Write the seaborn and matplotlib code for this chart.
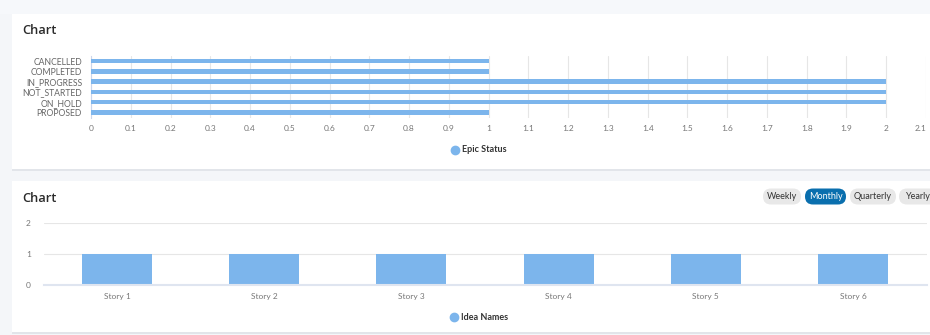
import matplotlib
matplotlib.use("Agg")
import matplotlib.pyplot as plt
import seaborn as sns
import pandas as pd
from matplotlib.patches import FancyBboxPatch, Rectangle

# ---- data ----
status_categories = ["CANCELLED", "COMPLETED", "IN_PROGRESS", "NOT_STARTED", "ON_HOLD", "PROPOSED"]
status_counts = [1, 1, 2, 2, 2, 1]
status_ticks = [0, 0.1, 0.2, 0.3, 0.4, 0.5, 0.6, 0.7, 0.8, 0.9, 1, 1.1, 1.2, 1.3, 1.4, 1.5,
                1.6, 1.7, 1.8, 1.9, 2, 2.1]
status_tick_labels = ["0", "0.1", "0.2", "0.3", "0.4", "0.5", "0.6", "0.7", "0.8", "0.9", "1",
                      "1.1", "1.2", "1.3", "1.4", "1.5", "1.6", "1.7", "1.8", "1.9", "2", "2.1"]
idea_names = ["Story 1", "Story 2", "Story 3", "Story 4", "Story 5", "Story 6"]
idea_counts = [1, 1, 1, 1, 1, 1]
idea_ticks = [0, 1, 2]
period_buttons = ["Weekly", "Monthly", "Quarterly", "Yearly"]
active_button = "Monthly"
legend_top = "Epic Status"
legend_bottom = "Idea Names"
titles = ["Chart", "Chart"]

BAR = "#7cb5ec"
W, H = 930, 335

sns.set_theme(style="white")
plt.rcParams["font.family"] = ["Lato", "DejaVu Sans"]

fig = plt.figure(figsize=(W / 100, H / 100), dpi=100)
fig.patch.set_facecolor("#f4f6f9")

def px_rect(x0, y0, x1, y1):
    return [x0 / W, 1 - y1 / H, (x1 - x0) / W, (y1 - y0) / H]

# background / decoration axes in pixel coordinates
bg = fig.add_axes([0, 0, 1, 1])
bg.set_xlim(0, W)
bg.set_ylim(H, 0)
bg.axis("off")
bg.set_zorder(0)

bg.add_patch(Rectangle((0, 0), W, 14, facecolor="#f6f8fb", edgecolor="none"))
for (y0, y1) in [(14, 169), (181, 332)]:
    bg.add_patch(Rectangle((12, y0), W - 12, y1 - y0 + 1.5, facecolor="#e2e5ea", edgecolor="none"))
    bg.add_patch(Rectangle((12, y0), W - 12, y1 - y0, facecolor="white", edgecolor="none"))

for ty, t in zip([31, 198], titles):
    bg.text(22, ty, t, fontsize=9.3, color="#2b2b2b", va="center", ha="left",
            fontfamily=["Open Sans", "DejaVu Sans"], fontweight="semibold")

# legends
bg.plot([455], [150], marker="o", markersize=6, color=BAR, linestyle="none")
bg.text(462, 150, legend_top, fontsize=6.5, fontweight="bold", color="#333333",
        va="center", ha="left")
bg.plot([454], [317], marker="o", markersize=6, color=BAR, linestyle="none")
bg.text(461, 317, legend_bottom, fontsize=6.5, fontweight="bold", color="#333333",
        va="center", ha="left")

# period buttons
btn_x = [(763, 801), (805, 846), (850, 896), (899, 937)]
for label, (x0, x1) in zip(period_buttons, btn_x):
    active = label == active_button
    col = "#0a6fae" if active else "#e8e8e8"
    bg.add_patch(FancyBboxPatch((x0, 188.5), (x1 - x0), 16,
                                boxstyle="round,pad=0,rounding_size=8",
                                facecolor=col, edgecolor="none"))
    bg.text((x0 + x1) / 2, 196.5, label, fontsize=6.5,
            color="white" if active else "#333333", ha="center", va="center")

# ---- top chart: horizontal bars ----
df_status = pd.DataFrame({"status": status_categories, "count": status_counts})
ax1 = fig.add_axes(px_rect(91, 56, 926, 117.5))
ax1.set_zorder(2)
ax1.set_facecolor("none")
sns.barplot(data=df_status, y="status", x="count", orient="h", color=BAR, width=0.45,
            saturation=1, ax=ax1, zorder=3, edgecolor="none")
ax1.set_xlim(0, 2.1)
ax1.set_ylim(5.5, -0.5)
ax1.set_xticks(status_ticks)
ax1.set_xticklabels(status_tick_labels)
ax1.tick_params(axis="x", length=0, labelsize=6, colors="#777777", pad=5.5)
ax1.tick_params(axis="y", length=0, labelsize=6.2, colors="#666666", pad=6.5)
ax1.grid(axis="x", color="#e6e6e6", linewidth=0.8, zorder=0)
ax1.set_axisbelow(True)
ax1.set_xlabel("")
ax1.set_ylabel("")
for s in ["top", "right", "bottom"]:
    ax1.spines[s].set_visible(False)
ax1.spines["left"].set_color("#ccd6eb")
ax1.spines["left"].set_linewidth(0.8)
lbls = ax1.get_xticklabels()
lbls[-1].set_horizontalalignment("right")

# ---- bottom chart: vertical bars ----
df_idea = pd.DataFrame({"idea": idea_names, "count": idea_counts})
ax2 = fig.add_axes(px_rect(43.5, 223, 926.5, 285))
ax2.set_zorder(2)
ax2.set_facecolor("none")
sns.barplot(data=df_idea, x="idea", y="count", color=BAR, width=0.475, saturation=1,
            ax=ax2, zorder=3, edgecolor="none")
ax2.set_xlim(-0.5, 5.5)
ax2.set_ylim(0, 2)
ax2.set_yticks(idea_ticks)
ax2.tick_params(axis="x", length=0, labelsize=6, colors="#777777", pad=6)
ax2.tick_params(axis="y", length=0, labelsize=6, colors="#777777", pad=9)
ax2.grid(axis="y", color="#e6e6e6", linewidth=0.8, zorder=0)
ax2.set_axisbelow(True)
ax2.set_xlabel("")
ax2.set_ylabel("")
for s in ["top", "right", "left"]:
    ax2.spines[s].set_visible(False)
ax2.spines["bottom"].set_color("#dfe5f0")
ax2.spines["bottom"].set_linewidth(1.5)
ax2.spines["bottom"].set_zorder(4)

fig.savefig("out.png", dpi=100)
